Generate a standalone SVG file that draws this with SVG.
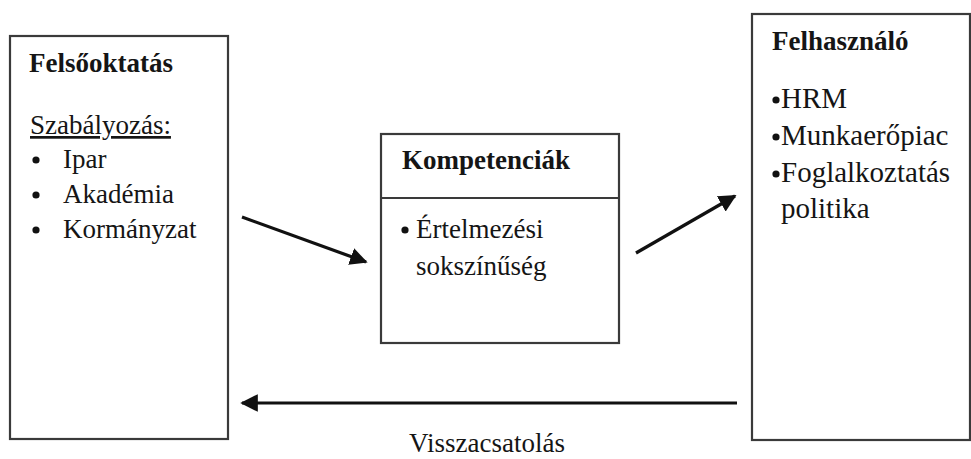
<svg xmlns="http://www.w3.org/2000/svg" width="971" height="459" viewBox="0 0 971 459">
<style>
.box{fill:#fff;stroke:#3a3a3a;stroke-width:2.2}
.t{font-family:"Liberation Serif","DejaVu Serif",serif;fill:#151515;font-size:27px}
.b{font-weight:bold}
.r{font-size:29px}
.arr{stroke:#111;stroke-width:3.2;fill:none;marker-end:url(#ah)}
</style>
<defs>
<marker id="ah" viewBox="0 0 10 10" refX="9" refY="5" markerWidth="5.5" markerHeight="5.5" orient="auto" markerUnits="strokeWidth">
<path d="M0,0 L10,5 L0,10 z" fill="#111"/>
</marker>
</defs>
<rect width="971" height="459" fill="#fff"/>
<g id="felsooktatas">
<rect class="box" x="10" y="36" width="218" height="403"/>
<text class="t b" x="29" y="72" font-family="Liberation Serif, serif">Felsőoktatás</text>
<text class="t" x="30" y="134" text-decoration="underline" font-family="Liberation Serif, serif">Szabályozás:</text>
<circle cx="36" cy="160" r="3.6" fill="#111"/>
<text class="t" x="63" y="168" font-family="Liberation Serif, serif">Ipar</text>
<circle cx="36" cy="195" r="3.6" fill="#111"/>
<text class="t" x="63" y="203" font-family="Liberation Serif, serif">Akadémia</text>
<circle cx="36" cy="230" r="3.6" fill="#111"/>
<text class="t" x="63" y="238" font-family="Liberation Serif, serif">Kormányzat</text>
</g>
<g id="kompetenciak">
<rect class="box" x="381" y="134" width="238" height="209"/>
<line x1="381" y1="198" x2="619" y2="198" stroke="#3a3a3a" stroke-width="2.2"/>
<text class="t b" x="402" y="169" font-family="Liberation Serif, serif">Kompetenciák</text>
<circle cx="405" cy="230" r="3.6" fill="#111"/>
<text class="t" x="416" y="238" font-family="Liberation Serif, serif">Értelmezési</text>
<text class="t" x="416" y="275" font-family="Liberation Serif, serif">sokszínűség</text>
</g>
<g id="felhasznalo">
<rect class="box" x="752" y="14" width="218" height="426"/>
<text class="t b" x="772" y="50" font-family="Liberation Serif, serif">Felhasználó</text>
<circle cx="776" cy="100" r="3.6" fill="#111"/>
<text class="t r" x="781" y="108" font-family="Liberation Serif, serif">HRM</text>
<circle cx="776" cy="137" r="3.6" fill="#111"/>
<text class="t r" x="781" y="145" font-family="Liberation Serif, serif">Munkaerőpiac</text>
<circle cx="776" cy="174" r="3.6" fill="#111"/>
<text class="t r" x="781" y="182" font-family="Liberation Serif, serif">Foglalkoztatás</text>
<text class="t r" x="781" y="218" font-family="Liberation Serif, serif">politika</text>
</g>
<g id="connectors">
<line class="arr" x1="242" y1="217" x2="366" y2="262"/>
<line class="arr" x1="636" y1="253" x2="735" y2="196"/>
<line class="arr" x1="737" y1="403" x2="242" y2="403"/>
<text class="t" x="487" y="452" text-anchor="middle" font-family="Liberation Serif, serif">Visszacsatolás</text>
</g>
</svg>
